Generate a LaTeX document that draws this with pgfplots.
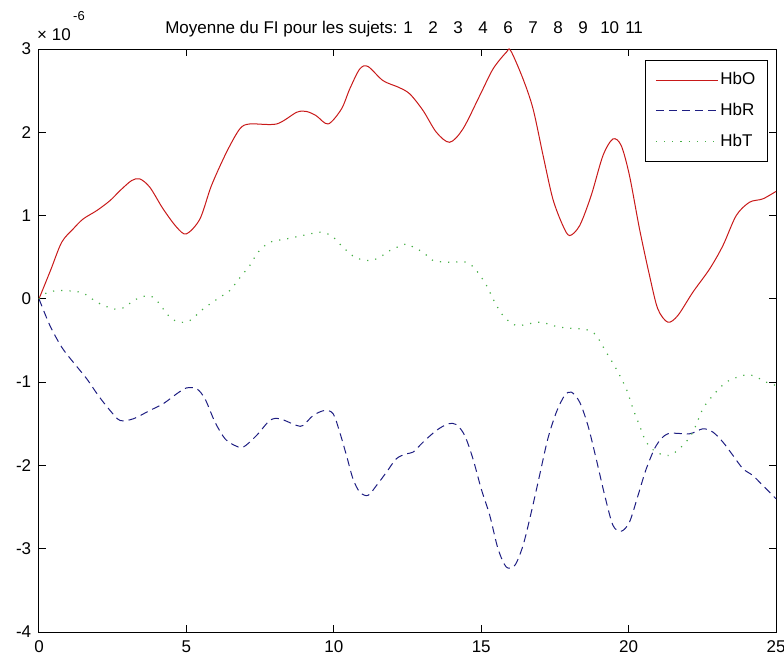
\documentclass[border=0pt]{standalone}
\usepackage{fontspec}
\setmainfont{Liberation Sans}
\usepackage{pgfplots}
\pgfplotsset{compat=1.18}
\definecolor{mred}{RGB}{200,25,25}
\definecolor{mblue}{RGB}{30,30,130}
\definecolor{mgreen}{RGB}{70,175,70}
\begin{document}
\fontsize{17bp}{20bp}\selectfont
\begin{tikzpicture}
\path[use as bounding box] (-39bp,-31bp) rectangle (745bp,632bp);
\begin{axis}[
  scale only axis,
  width=737bp, height=583bp,
  at={(0,0)}, anchor=south west,
  xmin=0, xmax=25, ymin=-4, ymax=3,
  xtick={0,5,10,15,20,25},
  ytick={-4,-3,-2,-1,0,1,2,3},
  tick align=inside,
  major tick length=7bp,
  axis line style={line width=1bp},
  every tick/.style={black, line width=1bp},
  /pgf/number format/assume math mode=true,
  ticklabel style={font=\fontsize{17bp}{20bp}\selectfont},
  xticklabel style={yshift=-3bp},
  yticklabel style={xshift=-2bp},
  legend cell align=left,
  legend style={at={(0.989,0.981)}, anchor=north east, draw=black, line width=1bp,
    font=\fontsize{17bp}{20bp}\selectfont, row sep=12bp, inner xsep=10bp, inner ysep=10bp},
  legend image code/.code={\draw[#1] (0bp,0bp) -- (62bp,0bp);},
  clip=false,
]
\addplot[mred, line width=1bp, smooth] coordinates {
(0,0) (0.4,0.35) (0.77,0.68) (1.16,0.84) (1.5,0.96) (1.96,1.06) (2.41,1.18) (2.75,1.30) (3.14,1.42) (3.42,1.44) (3.76,1.34) (4.21,1.08) (4.67,0.86) (5.0,0.78) (5.46,0.96) (5.85,1.36) (6.36,1.76) (6.81,2.04) (7.15,2.10) (8.06,2.10) (8.74,2.24) (9.07,2.25) (9.4,2.2) (9.81,2.10) (10.26,2.28) (10.54,2.52) (10.88,2.76) (11.16,2.79) (11.67,2.62) (12.2,2.54) (12.58,2.46) (13.03,2.26) (13.48,2.0) (13.93,1.88) (14.38,2.04) (14.95,2.44) (15.40,2.76) (15.85,2.96) (16.0,2.98) (16.42,2.64) (16.76,2.28) (17.1,1.72) (17.43,1.20) (17.77,0.88) (18.0,0.76) (18.34,0.88) (18.73,1.24) (19.13,1.72) (19.47,1.92) (19.75,1.84) (20.03,1.48) (20.37,0.84) (20.71,0.28) (20.99,-0.12) (21.33,-0.28) (21.67,-0.20) (22.18,0.08) (22.75,0.36) (23.2,0.64) (23.65,1.0) (24.1,1.16) (24.55,1.20) (25,1.29)
};
\addlegendentry{HbO}
\addplot[mblue, line width=1bp, smooth, dash pattern=on 8bp off 5bp] coordinates {
(0,0) (0.37,-0.32) (0.77,-0.58) (1.16,-0.76) (1.62,-0.96) (2.01,-1.16) (2.41,-1.34) (2.75,-1.46) (3.2,-1.44) (3.76,-1.34) (4.21,-1.26) (4.67,-1.14) (5.0,-1.07) (5.35,-1.08) (5.63,-1.20) (5.97,-1.48) (6.31,-1.68) (6.64,-1.76) (6.93,-1.78) (7.38,-1.64) (7.83,-1.46) (8.17,-1.44) (8.74,-1.52) (8.96,-1.52) (9.30,-1.40) (9.69,-1.34) (9.98,-1.38) (10.2,-1.60) (10.43,-1.88) (10.65,-2.16) (10.88,-2.32) (11.16,-2.36) (11.45,-2.24) (11.79,-2.08) (12.12,-1.92) (12.46,-1.86) (12.69,-1.84) (13.03,-1.72) (13.48,-1.58) (13.88,-1.50) (14.16,-1.51) (14.44,-1.64) (14.72,-1.92) (15.0,-2.28) (15.29,-2.60) (15.57,-3.0) (15.85,-3.22) (16.14,-3.20) (16.42,-2.96) (16.70,-2.56) (16.98,-2.12) (17.26,-1.68) (17.55,-1.36) (17.83,-1.16) (18.06,-1.12) (18.34,-1.24) (18.62,-1.52) (18.9,-1.92) (19.19,-2.36) (19.47,-2.72) (19.75,-2.79) (20.03,-2.68) (20.32,-2.36) (20.6,-2.04) (20.94,-1.76) (21.33,-1.62) (22.07,-1.62) (22.52,-1.56) (22.86,-1.60) (23.2,-1.72) (23.54,-1.88) (23.88,-2.04) (24.21,-2.12) (24.55,-2.24) (25,-2.40)
};
\addlegendentry{HbR}
\addplot[mgreen, line width=1.2bp, smooth, dash pattern=on 1.2bp off 7bp] coordinates {
(0,0) (0.3,0.08) (0.8,0.10) (1.4,0.08) (1.73,0.02) (1.96,-0.04) (2.52,-0.12) (2.92,-0.10) (3.2,-0.02) (3.7,0.04) (3.99,-0.02) (4.44,-0.22) (4.78,-0.28) (5.12,-0.26) (5.57,-0.12) (6.14,0.02) (6.47,0.10) (6.87,0.28) (7.15,0.40) (7.43,0.56) (7.83,0.68) (8.40,0.72) (9.07,0.77) (9.53,0.80) (9.92,0.76) (10.2,0.66) (10.71,0.50) (11.22,0.46) (11.56,0.50) (11.9,0.58) (12.46,0.66) (12.69,0.62) (13.03,0.56) (13.37,0.46) (13.93,0.44) (14.5,0.44) (14.84,0.34) (15.18,0.16) (15.46,-0.04) (15.74,-0.20) (16.19,-0.32) (16.98,-0.28) (17.66,-0.34) (18.57,-0.37) (18.9,-0.44) (19.24,-0.64) (19.58,-0.84) (19.92,-1.08) (20.15,-1.32) (20.37,-1.52) (20.6,-1.72) (20.94,-1.84) (21.39,-1.88) (21.84,-1.76) (22.18,-1.60) (22.52,-1.32) (22.86,-1.16) (23.31,-1.0) (23.88,-0.92) (24.21,-0.92) (24.67,-1.0) (25,-1.04)
};
\addlegendentry{HbT}
\node[anchor=base east, inner sep=0pt] at (rel axis cs:0.487,1) [yshift=16bp] {Moyenne du FI pour les sujets:};
\node[anchor=base west, inner sep=0pt] at (rel axis cs:0.494,1) [yshift=16bp] {\makebox[25bp][l]{1}\makebox[25bp][l]{2}\makebox[25bp][l]{3}\makebox[25bp][l]{4}\makebox[25bp][l]{6}\makebox[25bp][l]{7}\makebox[25bp][l]{8}\makebox[22bp][l]{9}\makebox[25bp][l]{10}11};
\node[anchor=base west, inner sep=0pt] at (rel axis cs:0,1) [xshift=-2bp, yshift=9bp] {\texttimes\ 10};
\node[anchor=base west, inner sep=0pt, font=\fontsize{13bp}{15bp}\selectfont] at (rel axis cs:0,1) [xshift=34bp, yshift=29bp] {-6};
\end{axis}
\end{tikzpicture}
\end{document}
